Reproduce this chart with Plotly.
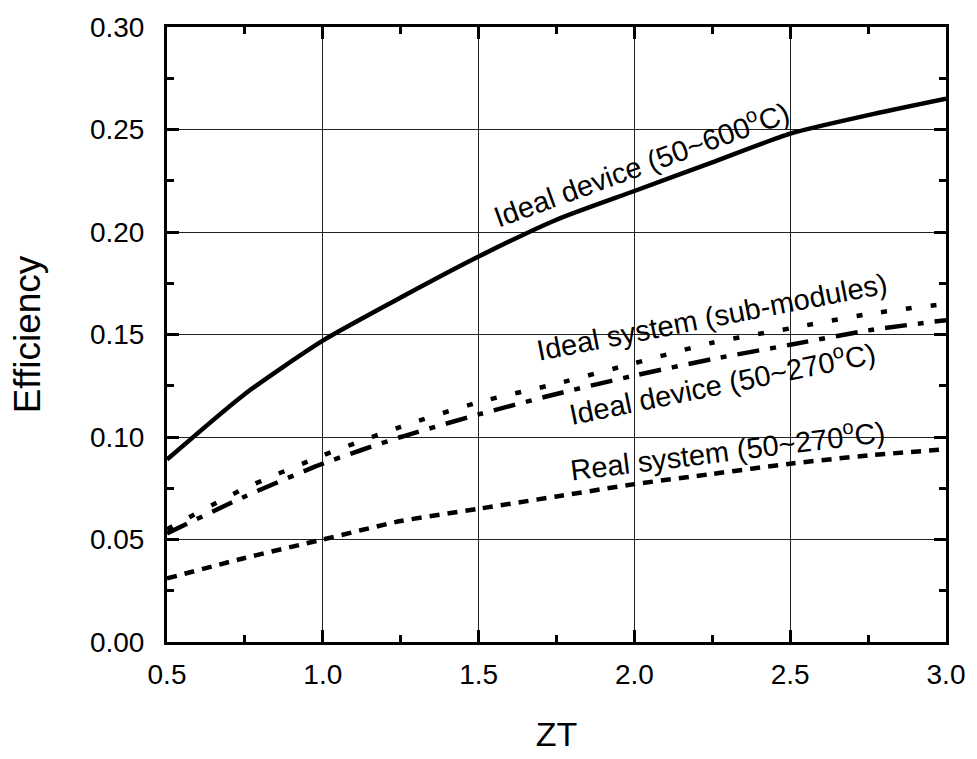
import plotly.graph_objects as go

# ZT values and efficiency curves
zt = [0.5, 0.75, 1.0, 1.25, 1.5, 1.75, 2.0, 2.25, 2.5, 2.75, 3.0]
ideal_device_600 = [0.089, 0.121, 0.147, 0.168, 0.188, 0.206, 0.220, 0.234, 0.248, 0.257, 0.265]
ideal_system_sub = [0.055, 0.075, 0.091, 0.105, 0.117, 0.126, 0.136, 0.146, 0.153, 0.160, 0.165]
ideal_device_270 = [0.053, 0.071, 0.087, 0.100, 0.111, 0.121, 0.130, 0.138, 0.145, 0.152, 0.157]
real_system_270 = [0.031, 0.041, 0.050, 0.059, 0.065, 0.071, 0.077, 0.082, 0.087, 0.091, 0.094]

FONT = "Liberation Sans, Arial, sans-serif"

fig = go.Figure()

series = [
    (ideal_device_600, "solid", 4.5),
    (ideal_system_sub, "6px,19px", 4.5),
    (ideal_device_270, "22px,11px,6px,11px", 4.5),
    (real_system_270, "10px,8px", 4.5),
]
for ys, dash, w in series:
    fig.add_trace(go.Scatter(
        x=zt, y=ys, mode="lines",
        line=dict(color="black", width=w, dash=dash, shape="spline", smoothing=0.6),
        showlegend=False, hoverinfo="skip",
    ))

# curve labels, set along each line
labels = [
    ("Ideal device (50~600<sup>o</sup>C)", 2.020, 0.2336, -20),
    ("Ideal system (sub-modules)", 2.249, 0.1583, -11),
    ("Ideal device (50~270<sup>o</sup>C)", 2.281, 0.1270, -11.5),
    ("Real system (50~270<sup>o</sup>C)", 2.300, 0.0943, -7),
]
for text, lx, ly, ang in labels:
    fig.add_annotation(
        x=lx, y=ly, xref="x", yref="y", text=text, textangle=ang,
        showarrow=False, xanchor="center", yanchor="middle",
        font=dict(family=FONT, size=29, color="black"),
    )

axis_common = dict(
    showline=True, linecolor="black", linewidth=3, mirror="ticks",
    ticks="inside", ticklen=12, tickwidth=3, tickcolor="black",
    showgrid=True, gridcolor="#222222", gridwidth=1,
    zeroline=False,
    tickfont=dict(family=FONT, size=28, color="black"),
)

fig.update_xaxes(
    range=[0.5, 3.0], tickmode="linear", tick0=0.5, dtick=0.5, tickformat=".1f",
    minor=dict(ticks="inside", ticklen=7, tickwidth=2.5, tickcolor="black",
               dtick=0.25, tick0=0.5, showgrid=False),
    title=dict(text="ZT", font=dict(family=FONT, size=34, color="black"), standoff=34),
    ticklabelstandoff=5,
    **axis_common,
)
fig.update_yaxes(
    range=[0.0, 0.30], tickmode="linear", tick0=0.0, dtick=0.05, tickformat=".2f",
    minor=dict(ticks="inside", ticklen=7, tickwidth=2.5, tickcolor="black",
               dtick=0.025, tick0=0.0, showgrid=False),
    title=dict(text="Efficiency", font=dict(family=FONT, size=37, color="black"), standoff=38),
    ticklabelstandoff=14,
    **axis_common,
)

fig.update_layout(
    width=977, height=759,
    margin=dict(l=167, r=24, t=23, b=103),
    paper_bgcolor="white", plot_bgcolor="white",
)

fig.write_html("out.html")
